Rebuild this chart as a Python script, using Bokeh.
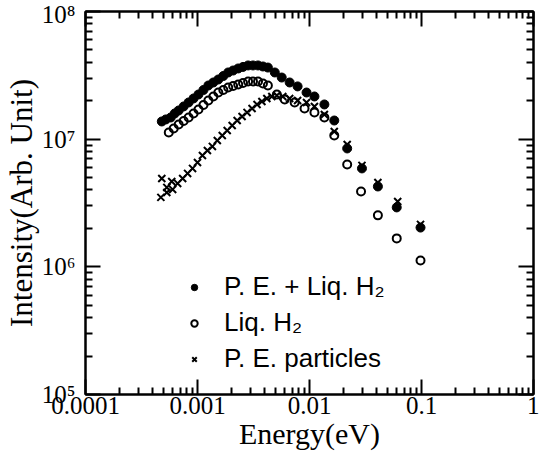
from bokeh.plotting import figure
from bokeh.models import (Range1d, FixedTicker, LogAxis, CustomJSTickFormatter,
                          Legend, LegendItem)
from bokeh.embed import file_html
from bokeh.resources import INLINE

# ---- data ----
pe_liq_E = [4.80e-4, 5.21e-4, 5.77e-4, 6.26e-4, 6.79e-4, 7.52e-4, 8.33e-4, 9.22e-4,
            1.02e-3, 1.13e-3, 1.25e-3, 1.385e-3, 1.534e-3, 1.70e-3, 1.88e-3, 2.08e-3,
            2.31e-3, 2.55e-3, 2.83e-3, 3.13e-3, 3.47e-3, 3.84e-3, 4.25e-3, 4.90e-3,
            5.65e-3, 6.65e-3, 7.83e-3, 9.41e-3, 1.107e-2, 1.358e-2, 1.664e-2, 2.17e-2,
            2.94e-2, 4.08e-2, 6.01e-2, 9.80e-2]
pe_liq_I = [1.376e7, 1.427e7, 1.479e7, 1.590e7, 1.678e7, 1.804e7, 1.938e7, 2.084e7,
            2.239e7, 2.428e7, 2.633e7, 2.78e7, 2.934e7, 3.125e7, 3.33e7, 3.45e7,
            3.58e7, 3.68e7, 3.78e7, 3.78e7, 3.78e7, 3.71e7, 3.64e7, 3.33e7,
            3.04e7, 2.78e7, 2.59e7, 2.32e7, 2.16e7, 1.87e7, 1.40e7, 8.46e6,
            5.90e6, 4.26e6, 2.92e6, 2.03e6]

liq_E = [5.54e-4, 6.13e-4, 6.79e-4, 7.52e-4, 8.33e-4, 9.22e-4, 1.02e-3, 1.13e-3,
         1.25e-3, 1.385e-3, 1.534e-3, 1.70e-3, 1.88e-3, 2.08e-3, 2.31e-3, 2.55e-3,
         2.83e-3, 3.13e-3, 3.47e-3, 3.84e-3, 4.25e-3, 5.11e-3, 6.01e-3, 7.37e-3,
         9.03e-3, 1.107e-2, 1.358e-2, 1.664e-2, 2.17e-2, 2.885e-2, 4.08e-2, 6.01e-2,
         9.80e-2]
liq_I = [1.129e7, 1.213e7, 1.304e7, 1.388e7, 1.479e7, 1.590e7, 1.708e7, 1.853e7,
         2.01e7, 2.16e7, 2.32e7, 2.428e7, 2.54e7, 2.61e7, 2.68e7, 2.755e7,
         2.83e7, 2.83e7, 2.83e7, 2.73e7, 2.633e7, 2.239e7, 2.046e7, 1.938e7,
         1.739e7, 1.619e7, 1.479e7, 1.069e7, 6.34e6, 3.89e6, 2.53e6, 1.67e6,
         1.12e6]

pe_E = [4.71e-4, 4.80e-4, 5.32e-4, 5.32e-4, 5.89e-4, 6.00e-4, 6.65e-4, 7.37e-4,
        8.16e-4, 9.03e-4, 1.0e-3, 1.107e-3, 1.226e-3, 1.358e-3, 1.503e-3, 1.664e-3,
        1.842e-3, 2.04e-3, 2.26e-3, 2.50e-3, 2.77e-3, 3.07e-3, 3.40e-3, 3.76e-3,
        4.16e-3, 4.61e-3, 5.11e-3, 5.77e-3, 6.65e-3, 7.83e-3, 9.41e-3, 1.107e-2,
        1.358e-2, 1.664e-2, 2.17e-2, 2.94e-2, 4.08e-2, 6.13e-2, 9.80e-2]
pe_I = [3.50e6, 4.92e6, 4.19e6, 3.82e6, 4.66e6, 4.04e6, 4.50e6, 4.92e6,
        5.39e6, 5.90e6, 6.57e6, 7.45e6, 8.15e6, 8.77e6, 9.77e6, 1.069e7,
        1.17e7, 1.28e7, 1.40e7, 1.506e7, 1.619e7, 1.739e7, 1.87e7, 1.973e7,
        2.084e7, 2.16e7, 2.20e7, 2.16e7, 2.084e7, 2.01e7, 1.938e7, 1.804e7,
        1.561e7, 1.149e7, 9.09e6, 6.23e6, 4.58e6, 3.25e6, 2.15e6]

series_labels = ["P. E. + Liq. H\u2082", "Liq. H\u2082", "P. E. particles"]
x_title = "Energy(eV)"
y_title = "Intensity(Arb. Unit)"

# ---- ticks ----
x_major = [1e-4, 1e-3, 1e-2, 1e-1, 1.0]
x_minor = [m * 10.0 ** e for e in range(-4, 0) for m in range(2, 10)]
y_major = [1e5, 1e6, 1e7, 1e8]
y_minor = [m * 10.0 ** e for e in range(5, 8) for m in range(2, 10)]

SERIF = "Liberation Serif"
SANS = "Liberation Sans"

p = figure(width=539, height=463, x_axis_type="log", y_axis_type="log",
           x_range=Range1d(1e-4, 1.0), y_range=Range1d(1e5, 1e8),
           output_backend="svg", toolbar_location=None,
           min_border_left=81, min_border_right=6, min_border_top=11,
           min_border_bottom=69)
p.grid.visible = False
p.outline_line_color = "black"
p.outline_line_width = 2
p.background_fill_color = "white"
p.border_fill_color = "white"

xfmt = CustomJSTickFormatter(code="return String(tick);")
yfmt = CustomJSTickFormatter(code="""
const sup = {5:'\\u2075', 6:'\\u2076', 7:'\\u2077', 8:'\\u2078'};
return '10' + sup[Math.round(Math.log10(tick))];
""")
blank = CustomJSTickFormatter(code="return '';")


def style_axis(ax, labels=True):
    ax.axis_line_width = 2
    ax.axis_line_color = "black"
    ax.major_tick_in = 15
    ax.major_tick_out = 0
    ax.minor_tick_in = 7
    ax.minor_tick_out = 0
    ax.major_tick_line_width = 2
    ax.minor_tick_line_width = 2
    ax.major_tick_line_color = "black"
    ax.minor_tick_line_color = "black"
    if not labels:
        ax.major_label_text_font_size = "0px"
        ax.major_label_standoff = 0


xa = p.xaxis[0]
xa.ticker = FixedTicker(ticks=x_major, minor_ticks=x_minor)
xa.formatter = xfmt
style_axis(xa)
xa.major_label_text_font = SERIF
xa.major_label_text_font_size = "25px"
xa.major_label_text_color = "black"
xa.major_label_standoff = 2
xa.axis_label = x_title
xa.axis_label_text_font = SERIF
xa.axis_label_text_font_size = "30px"
xa.axis_label_text_font_style = "normal"
xa.axis_label_text_color = "black"
xa.axis_label_standoff = 0

ya = p.yaxis[0]
ya.ticker = FixedTicker(ticks=y_major, minor_ticks=y_minor)
ya.formatter = yfmt
style_axis(ya)
ya.major_label_text_font = SERIF
ya.major_label_text_font_size = "25px"
ya.major_label_text_color = "black"
ya.major_label_standoff = 10
ya.axis_label = y_title
ya.axis_label_text_font = SERIF
ya.axis_label_text_font_size = "31px"
ya.axis_label_text_font_style = "normal"
ya.axis_label_text_color = "black"
ya.axis_label_standoff = 0

top = LogAxis(ticker=FixedTicker(ticks=x_major, minor_ticks=x_minor), formatter=blank)
style_axis(top, labels=False)
p.add_layout(top, "above")
right = LogAxis(ticker=FixedTicker(ticks=y_major, minor_ticks=y_minor), formatter=blank)
style_axis(right, labels=False)
p.add_layout(right, "right")

r1 = p.scatter(pe_liq_E, pe_liq_I, marker="circle", size=9,
               fill_color="black", line_color="black")
r2 = p.scatter(liq_E, liq_I, marker="circle", size=8,
               fill_color=None, line_color="black", line_width=2)
r3 = p.scatter(pe_E, pe_I, marker="x", size=10,
               line_color="black", line_width=2)

legend = Legend(items=[LegendItem(label=series_labels[0], renderers=[r1]),
                       LegendItem(label=series_labels[1], renderers=[r2]),
                       LegendItem(label=series_labels[2], renderers=[r3])],
                location=(101, 20), padding=0, margin=0, spacing=5,
                glyph_width=16, glyph_height=26, label_height=26,
                label_standoff=22,
                label_text_font=SANS, label_text_font_size="26px",
                label_text_color="black", label_text_baseline="middle",
                border_line_alpha=0, background_fill_alpha=0)
p.add_layout(legend)

open("out.html", "w").write(file_html(p, INLINE))
